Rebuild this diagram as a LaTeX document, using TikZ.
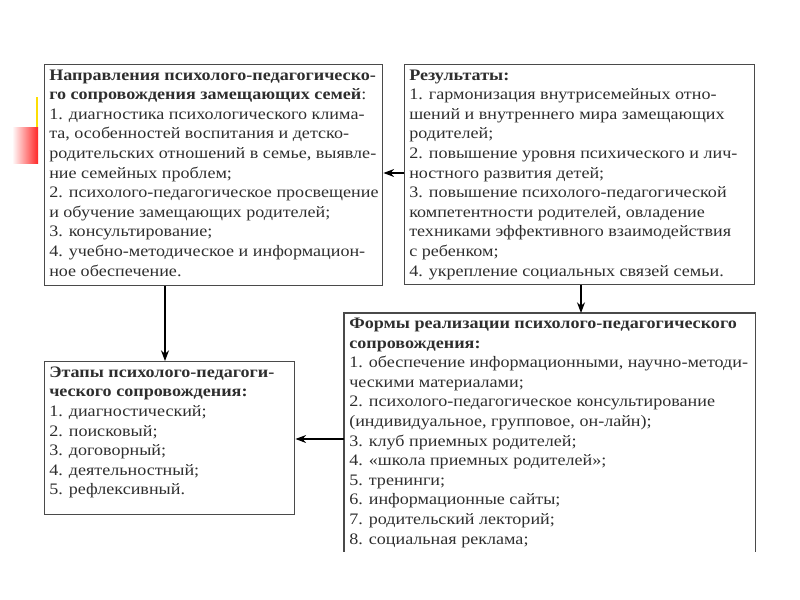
\documentclass[tikz,border=0pt]{standalone}
\usepackage{fontspec}
\setmainfont{Liberation Serif}[FakeStretch=1.13]
\usetikzlibrary{arrows.meta}
\definecolor{boxline}{HTML}{4A4A4A}
\definecolor{txt}{HTML}{2E2E2E}
\begin{document}
\begin{tikzpicture}[x=0.75pt,y=-0.75pt,
  box/.style={draw=boxline, line width=1.1pt, rectangle, inner sep=0pt, anchor=north west},
  openbox/.style={rectangle, inner sep=0pt, anchor=north west},
  txtnode/.style={anchor=north west, inner sep=0pt, align=left, text=txt, font=\fontsize{12}{14.7}\selectfont},
  arr/.style={draw=black, line width=0.9pt, -{Stealth[length=8pt,width=6pt]}}]
\useasboundingbox (0,0) rectangle (800,600);
% slide decoration
\shade[left color=white, right color=red!85!white] (12,127) rectangle (38,163);
\draw[yellow!80!orange, line width=1pt] (37,97) -- (37,127);
% boxes
\node[box, minimum width=253.5pt, minimum height=165.75pt] (A) at (44,64) {};
\node[box, minimum width=262.5pt, minimum height=165pt] (B) at (404,64) {};
\node[box, minimum width=187.5pt, minimum height=114.75pt] (C) at (44,361) {};
\node[openbox, minimum width=308.25pt, minimum height=178.5pt] (D) at (344,313) {};
\draw[boxline, line width=1.1pt] (D.south west) -- (D.north west) -- (D.north east) -- (D.south east);
% texts
\node[txtnode] (tA) at ([xshift=3.75pt,yshift=-4pt]A.north west) {\textbf{Направления психолого-педагогическо-}\\\textbf{го сопровождения замещающих семей}:\\
1. диагностика психологического клима-\\
та, особенностей воспитания и детско-\\
родительских отношений в семье, выявле-\\
ние семейных проблем;\\
2. психолого-педагогическое просвещение\\
и обучение замещающих родителей;\\
3. консультирование;\\
4. учебно-методическое и информацион-\\
ное обеспечение.};
\node[txtnode] (tB) at ([xshift=3.75pt,yshift=-4pt]B.north west) {\textbf{Результаты:}\\
1. гармонизация внутрисемейных отно-\\
шений и внутреннего мира замещающих\\
родителей;\\
2. повышение уровня психического и лич-\\
ностного развития детей;\\
3. повышение психолого-педагогической\\
компетентности родителей, овладение\\
техниками эффективного взаимодействия\\
с ребенком;\\
4. укрепление социальных связей семьи.};
\node[txtnode] (tC) at ([xshift=3.75pt,yshift=-4pt]C.north west) {\textbf{Этапы психолого-педагоги-}\\\textbf{ческого сопровождения:}\\
1. диагностический;\\
2. поисковый;\\
3. договорный;\\
4. деятельностный;\\
5. рефлексивный.};
\node[txtnode] (tD) at ([xshift=3.75pt,yshift=-3.5pt]D.north west) {\textbf{Формы реализации психолого-педагогического}\\\textbf{сопровождения:}\\
1. обеспечение информационными, научно-методи-\\
ческими материалами;\\
2. психолого-педагогическое консультирование\\
(индивидуальное, групповое, он-лайн);\\
3. клуб приемных родителей;\\
4. «школа приемных родителей»;\\
5. тренинги;\\
6. информационные сайты;\\
7. родительский лекторий;\\
8. социальная реклама;};
% connectors
\coordinate (yAB) at (0,173);
\coordinate (xAC) at (165,0);
\coordinate (xBD) at (581,0);
\coordinate (yDC) at (0,439);
\draw[arr] (B.west |- yAB) -- (A.east |- yAB);
\draw[arr] (xAC |- A.south) -- (xAC |- C.north);
\draw[arr] (xBD |- B.south) -- (xBD |- D.north);
\draw[arr] (D.west |- yDC) -- (C.east |- yDC);
\end{tikzpicture}
\end{document}
